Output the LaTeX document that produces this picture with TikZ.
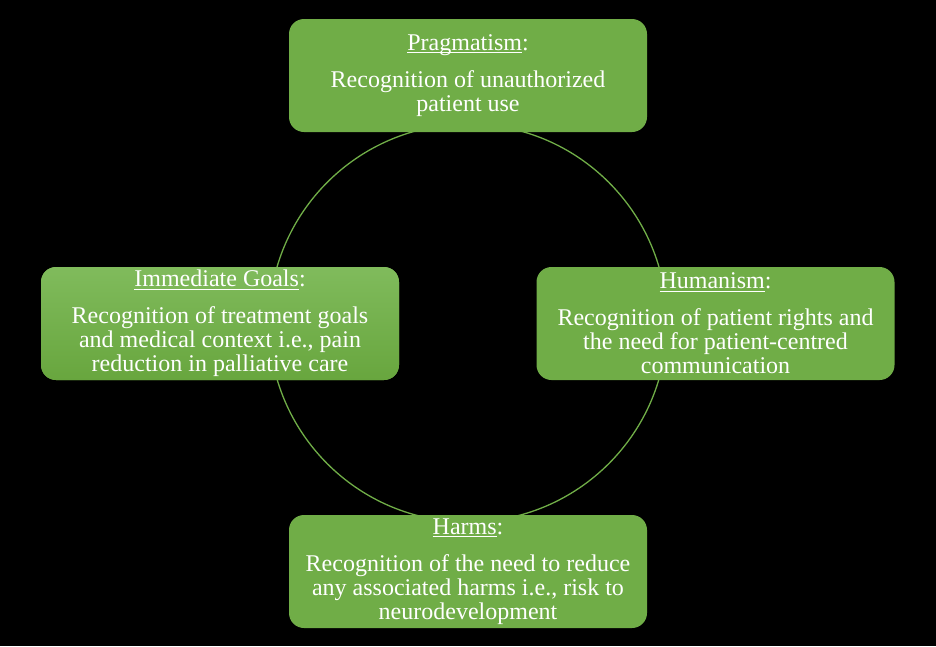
\documentclass[tikz,border=0pt]{standalone}
\usepackage{fontspec}
\setmainfont{Liberation Serif}
\definecolor{boxgreen}{RGB}{112,173,71}
\definecolor{boxtop}{RGB}{128,187,92}
\definecolor{boxbottom}{RGB}{104,166,62}
\newcommand\ultitle[1]{\setbox0\hbox{#1}\rlap{\rule[-3pt]{\wd0}{1.2pt}}\box0}
\begin{document}
\begin{tikzpicture}[x=1pt, y=-1pt,
		goalbox/.style={rectangle, rounded corners=15pt, fill=boxgreen, text=white,
			minimum width=358pt, minimum height=113pt, inner sep=0pt, align=center,
			font=\fontsize{24}{24}\selectfont}]
			\fill[black] (0,0) rectangle (936,646);
			\useasboundingbox (0,0) rectangle (936,646);

			\draw[boxgreen, line width=1.3pt] (468,323) circle[radius=199pt];

			\draw node[goalbox] (prag) at (468,75.5) {\ultitle{Pragmatism}:\\[13pt]Recognition of unauthorized\\patient use};
			\draw node[goalbox, top color=boxtop, bottom color=boxbottom] (goal) at (220,323.5) {\ultitle{Immediate Goals}:\\[13pt]Recognition of treatment goals\\and medical context i.e., pain\\reduction in palliative care};
			\draw node[goalbox] (human) at (715.5,323.5) {\ultitle{Humanism}:\\[13pt]Recognition of patient rights and\\the need for patient-centred\\communication};
			\draw node[goalbox] (harm) at (468,571.5) {\ultitle{Harms}:\\[13pt]Recognition of the need to reduce\\any associated harms i.e., risk to\\neurodevelopment};
		\end{tikzpicture}
\end{document}
